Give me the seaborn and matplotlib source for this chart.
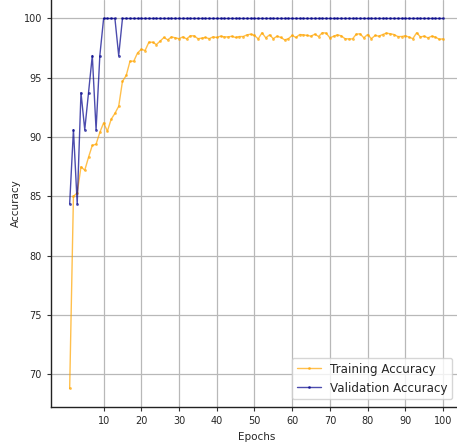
import matplotlib
matplotlib.use("Agg")
import matplotlib.pyplot as plt
import seaborn as sns
import pandas as pd

epochs = list(range(1, 101))

train_acc = [
    68.8, 85.0, 85.3, 87.5, 87.2, 88.3, 89.3, 89.4, 90.4, 91.2,
    90.5, 91.5, 92.0, 92.6, 94.7, 95.2, 96.4, 96.4, 97.1, 97.4,
    97.3, 98.0, 98.0, 97.8, 98.1, 98.4, 98.2, 98.45, 98.37, 98.3,
    98.45, 98.28, 98.54, 98.54, 98.3, 98.34, 98.4, 98.3, 98.45, 98.4,
    98.51, 98.45, 98.45, 98.5, 98.4, 98.48, 98.48, 98.62, 98.68, 98.57,
    98.28, 98.8, 98.37, 98.62, 98.3, 98.51, 98.4, 98.2, 98.3, 98.57,
    98.4, 98.65, 98.62, 98.57, 98.51, 98.68, 98.48, 98.8, 98.77, 98.37,
    98.51, 98.62, 98.54, 98.3, 98.28, 98.28, 98.68, 98.71, 98.37, 98.65,
    98.3, 98.57, 98.51, 98.65, 98.77, 98.71, 98.65, 98.48, 98.48, 98.54,
    98.43, 98.3, 98.8, 98.45, 98.51, 98.37, 98.51, 98.43, 98.25, 98.28,
]

val_acc = [
    84.375, 90.625, 84.375, 93.75, 90.625, 93.75, 96.875, 90.625, 96.875, 100.0,
    100.0, 100.0, 100.0, 96.875,
] + [100.0] * 86

df = pd.DataFrame({"Epoch": epochs, "Train": train_acc, "Val": val_acc})

sns.set_style("white")
plt.rcParams["font.family"] = ["DejaVu Sans"]

fig = plt.figure(figsize=(4.57, 4.48), dpi=100)
ax = fig.add_axes([51 / 457, 41 / 448, 410.7 / 457, 407 / 448])

line_kw = dict(marker=".", markersize=4, linewidth=1, alpha=0.7, markeredgewidth=0)
sns.lineplot(data=df, x="Epoch", y="Train", color="orange", mec="orange",
             label="Training Accuracy", ax=ax, **line_kw)
sns.lineplot(data=df, x="Epoch", y="Val", color="darkblue", mec="darkblue",
             label="Validation Accuracy", ax=ax, **line_kw)

ax.set_xticks(range(10, 101, 10))
ax.set_yticks(range(70, 101, 5))
ax.tick_params(labelsize=7, length=3, width=0.8, color="#333333", direction="out",
               bottom=True, left=True)
ax.set_xlabel("Epochs", fontsize=7.5)
ax.set_ylabel("Accuracy", fontsize=7.5, labelpad=2)
ax.grid(True, color="#b8b8b8", linewidth=0.9)
for side in ("left", "bottom"):
    ax.spines[side].set_color("#222222")
    ax.spines[side].set_linewidth(1.0)
for side in ("top", "right"):
    ax.spines[side].set_visible(False)

leg = ax.legend(loc="lower right", fontsize=8.6, frameon=True, fancybox=True,
                bbox_to_anchor=(0.992, 0.004), handlelength=2.0)
leg.get_frame().set_edgecolor("#cccccc")

fig.savefig("out.png", dpi=100)
